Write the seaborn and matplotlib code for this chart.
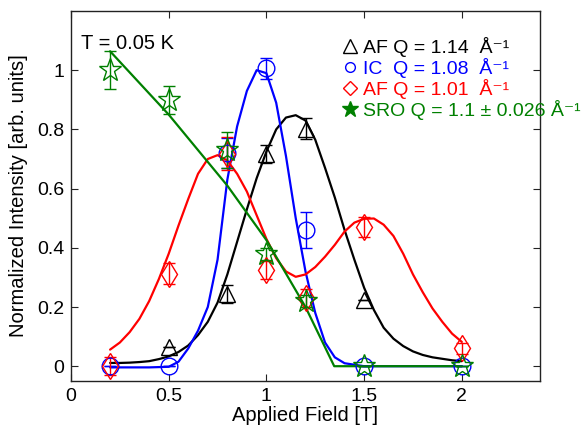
import numpy as np
import pandas as pd
import matplotlib
matplotlib.use("Agg")
import matplotlib.pyplot as plt
from matplotlib.lines import Line2D
import seaborn as sns

# ---------------- data ----------------
# measured points
af114_x = [0.5, 0.8, 1.0, 1.2, 1.5]
af114_y = [0.065, 0.245, 0.718, 0.803, 0.223]
af114_e = [0.0, 0.03, 0.03, 0.035, 0.0]

ic_x = [0.2, 0.5, 0.8, 1.0, 1.2, 1.5, 2.0]
ic_y = [0.0, 0.0, 0.72, 1.006, 0.46, 0.0, 0.0]
ic_e = [0.0, 0.0, 0.05, 0.035, 0.06, 0.0, 0.0]

af101_x = [0.2, 0.5, 0.8, 1.0, 1.2, 1.5, 2.0]
af101_y = [0.0, 0.313, 0.718, 0.324, 0.23, 0.47, 0.06]
af101_e = [0.03, 0.035, 0.055, 0.03, 0.03, 0.035, 0.02]

sro_x = [0.2, 0.5, 0.8, 1.0, 1.2, 1.5, 2.0]
sro_y = [1.0, 0.899, 0.73, 0.38, 0.22, 0.0, 0.0]
sro_e = [0.065, 0.048, 0.06, 0.02, 0.02, 0.0, 0.0]

# fitted curves
fit_af114_x = [0.2, 0.25, 0.3, 0.35, 0.4, 0.45, 0.5, 0.55, 0.6, 0.65, 0.7, 0.75,
               0.8, 0.85, 0.9, 0.95, 1.0, 1.05, 1.1, 1.15, 1.2, 1.25, 1.3, 1.35,
               1.4, 1.45, 1.5, 1.55, 1.6, 1.65, 1.7, 1.75, 1.8, 1.85, 1.9, 1.95, 2.0]
fit_af114_y = [0.011, 0.011, 0.012, 0.014, 0.017, 0.024, 0.033, 0.048, 0.07, 0.105,
               0.15, 0.215, 0.31, 0.42, 0.53, 0.635, 0.725, 0.8, 0.84, 0.848, 0.83,
               0.765, 0.67, 0.57, 0.46, 0.36, 0.265, 0.19, 0.13, 0.093, 0.068, 0.05,
               0.038, 0.03, 0.025, 0.02, 0.017]

fit_ic_x = [0.2, 0.3, 0.4, 0.5, 0.55, 0.6, 0.65, 0.7, 0.75, 0.8, 0.85, 0.9, 0.95,
            1.0, 1.05, 1.1, 1.15, 1.2, 1.25, 1.3, 1.35, 1.4, 1.5, 2.0]
fit_ic_y = [-0.004, -0.004, -0.004, -0.002, 0.015, 0.06, 0.12, 0.2, 0.36, 0.63, 0.81,
            0.93, 1.0, 0.99, 0.89, 0.71, 0.50, 0.32, 0.18, 0.08, 0.03, 0.01, 0.0, 0.0]

fit_af101_x = [0.2, 0.25, 0.3, 0.35, 0.4, 0.45, 0.5, 0.55, 0.6, 0.65, 0.7, 0.75,
               0.8, 0.85, 0.9, 0.95, 1.0, 1.05, 1.1, 1.15, 1.2, 1.25, 1.3, 1.35,
               1.4, 1.45, 1.5, 1.55, 1.6, 1.65, 1.7, 1.75, 1.8, 1.85, 1.9, 1.95, 2.0]
fit_af101_y = [0.056, 0.08, 0.115, 0.16, 0.22, 0.295, 0.38, 0.475, 0.565, 0.65, 0.70,
               0.713, 0.695, 0.65, 0.59, 0.51, 0.43, 0.365, 0.32, 0.302, 0.31, 0.335,
               0.37, 0.41, 0.455, 0.485, 0.498, 0.499, 0.478, 0.44, 0.38, 0.31, 0.25,
               0.195, 0.15, 0.11, 0.082]

fit_sro_x = [0.2, 0.5, 0.8, 1.0, 1.2, 1.347, 2.0]
fit_sro_y = [1.064, 0.85, 0.61, 0.426, 0.2, 0.0, 0.0]

labels = ["AF Q = 1.14  Å⁻¹", "IC  Q = 1.08  Å⁻¹",
          "AF Q = 1.01  Å⁻¹", "SRO Q = 1.1 ± 0.026 Å⁻¹"]
colors = ["black", "blue", "red", "green"]
x_ticks = [0, 0.5, 1, 1.5, 2]
x_ticklabels = ["0", "0.5", "1", "1.5", "2"]
y_ticks = [0, 0.2, 0.4, 0.6, 0.8, 1.0]
y_ticklabels = ["0", "0.2", "0.4", "0.6", "0.8", "1"]

# ---------------- style ----------------
sns.set_style("ticks")
plt.rcParams["font.family"] = ["Liberation Sans", "DejaVu Sans"]
plt.rcParams["xtick.direction"] = "in"
plt.rcParams["ytick.direction"] = "in"
plt.rcParams["text.color"] = "black"
plt.rcParams["axes.labelcolor"] = "black"
plt.rcParams["xtick.color"] = "black"
plt.rcParams["ytick.color"] = "black"

fig = plt.figure(figsize=(5.88, 4.26), dpi=100)
ax = fig.add_axes([71 / 588, 1 - 381 / 426, (540 - 71) / 588, (381 - 11) / 426])

curves = [(fit_af114_x, fit_af114_y), (fit_ic_x, fit_ic_y),
          (fit_af101_x, fit_af101_y), (fit_sro_x, fit_sro_y)]
for (cx, cy), c in zip(curves, colors):
    df = pd.DataFrame({"x": cx, "y": cy})
    sns.lineplot(data=df, x="x", y="y", ax=ax, color=c, lw=1.6, sort=False,
                 estimator=None)

pts = [(af114_x, af114_y, af114_e, "^", 12),
       (ic_x, ic_y, ic_e, "o", 12),
       (af101_x, af101_y, af101_e, "d", 13),
       (sro_x, sro_y, sro_e, "*", 17)]
for (px, py, pe, m, ms), c in zip(pts, colors):
    ax.errorbar(px, py, yerr=pe, fmt=m, ms=ms, mfc="none", mec=c, mew=1.0,
                ecolor=c, elinewidth=1.0, capsize=4, capthick=1.0, zorder=3)

ax.set_xlim(0, 2.4)
ax.set_ylim(-0.05, 1.2)
ax.set_xticks(x_ticks)
ax.set_xticklabels(x_ticklabels)
ax.set_yticks(y_ticks)
ax.set_yticklabels(y_ticklabels)
ax.tick_params(axis="both", which="both", top=True, right=True, length=5,
               width=0.8, labelsize=14, color="#222222", pad=5)
for s in ax.spines.values():
    s.set_linewidth(1.0)
    s.set_color("#222222")
ax.set_xlabel("Applied Field [T]", fontsize=14.5, labelpad=1)
ax.set_ylabel("Normalized Intensity [arb. units]", fontsize=14.5, labelpad=6)

ax.text(0.05, 1.09, "T = 0.05 K", fontsize=14.5, ha="left", va="center")

handles = [Line2D([], [], ls="none", marker="^", ms=10, mfc="none", mec="black"),
           Line2D([], [], ls="none", marker="o", ms=7, mfc="none", mec="blue"),
           Line2D([], [], ls="none", marker="D", ms=7, mfc="none", mec="red"),
           Line2D([], [], ls="none", marker="*", ms=12, mfc="green", mec="green")]
leg = fig.legend(handles, labels, loc="upper left",
                 bbox_to_anchor=(332 / 588, 1 - 27 / 426), frameon=False,
                 fontsize=14, handlelength=0.8, handletextpad=0.3,
                 labelspacing=0.05, borderpad=0, labelcolor=colors)

fig.savefig("out.png", dpi=100)
